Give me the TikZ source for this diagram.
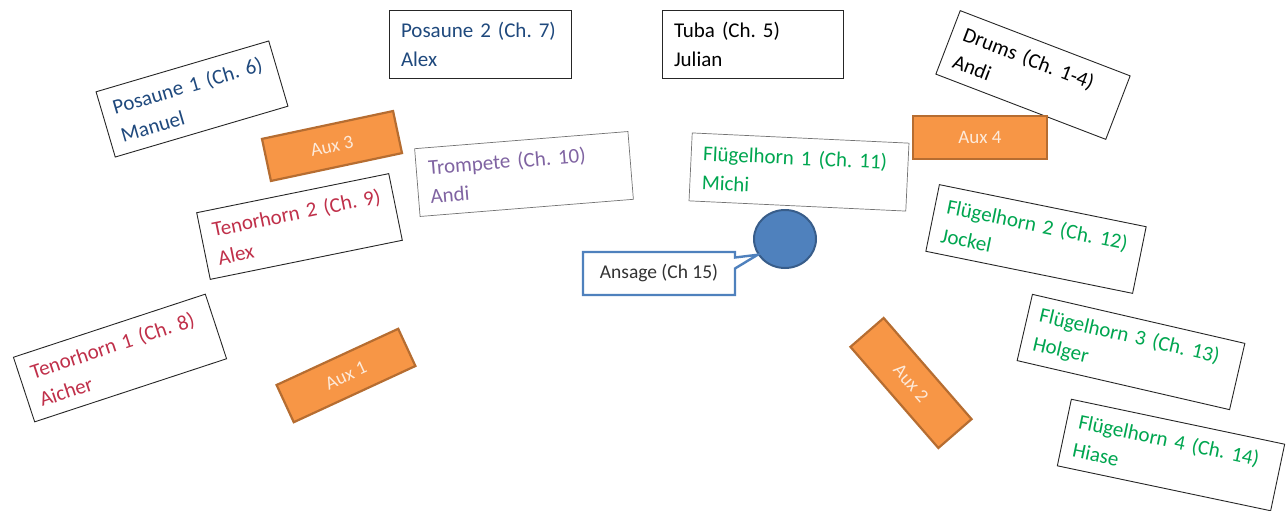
\documentclass[tikz,border=0pt]{standalone}
\usepackage{fontspec}
\setmainfont{Carlito}
\usetikzlibrary{shapes.geometric}
\usetikzlibrary{shapes.callouts}

\definecolor{posblue}{HTML}{1F497D}
\definecolor{trpviolet}{HTML}{8064A2}
\definecolor{tenred}{HTML}{C0304A}
\definecolor{flgreen}{HTML}{00A650}
\definecolor{auxfill}{HTML}{F79646}
\definecolor{auxline}{HTML}{B66D31}
\definecolor{auxtext}{HTML}{FDEADA}
\definecolor{spkfill}{HTML}{4F81BD}
\definecolor{spkline}{HTML}{385D8A}

\begin{document}
\begin{tikzpicture}
[x=1pt,y=-1pt,
 seat/.style={shape=rectangle,draw=black!85,line width=0.9pt,fill=white,
	minimum height=68pt,inner xsep=12pt,align=left,
	font=\fontsize{21}{29}\selectfont\frenchspacing},
 thinseat/.style={seat,draw=black!55,line width=0.7pt},
 aux/.style={shape=rectangle,draw=auxline,line width=2.2pt,fill=auxfill,
	minimum width=134pt,minimum height=43pt,text=auxtext,
	font=\fontsize{19}{22}\selectfont},
 spk/.style={shape=ellipse,draw=spkline,line width=2pt,fill=spkfill,
	minimum width=62pt,minimum height=58pt,inner sep=0pt},
 annbox/.style={rectangle callout,draw=spkfill,line width=2.4pt,fill=white,
	minimum width=152pt,minimum height=43pt,text=black!80,
	callout pointer width=11pt,font=\fontsize{19.5}{22}\selectfont}]

\useasboundingbox (0,0) rectangle (1288,511);

% back row
\draw (480,44) node (pos2) [seat,text=posblue,text width=158pt]
	{Posaune 2 (Ch. 7)\\Alex};
\draw (752.5,44) node (tuba) [seat,text width=157pt]
	{Tuba (Ch. 5)\\Julian};
\draw (192,99) node (pos1) [seat,text=posblue,text width=156pt,rotate=16.4]
	{Posaune 1 (Ch. 6)\\Manuel};
\draw (1033,75) node (drums) [seat,text width=158pt,rotate=-21]
	{Drums (Ch. 1-4)\\Andi};

% left side
\draw (524,174) node (trp) [thinseat,text=trpviolet,text width=190pt,rotate=4.6]
	{Trompete (Ch. 10)\\Andi};
\draw (299.5,226.5) node (ten2) [seat,text=tenred,text width=172pt,rotate=11.5]
	{Tenorhorn 2 (Ch. 9)\\Alex};
\draw (120,358) node (ten1) [seat,text=tenred,text width=178pt,rotate=18.2]
	{Tenorhorn 1 (Ch. 8)\\Aicher};

% right side
\draw (799,172) node (fl1) [thinseat,text=flgreen,text width=193pt,rotate=-2.7]
	{Flügelhorn 1 (Ch. 11)\\Michi};
\draw (1036,239) node (fl2) [seat,text=flgreen,text width=187pt,rotate=-11.5]
	{Flügelhorn 2 (Ch. 12)\\Jockel};
\draw (1131,352) node (fl3) [seat,text=flgreen,text width=194pt,rotate=-13]
	{Flügelhorn 3 (Ch. 13)\\Holger};
\draw (1171,455) node (fl4) [seat,text=flgreen,text width=194pt,rotate=-11.9]
	{Flügelhorn 4 (Ch. 14)\\Hiase};

% aux speakers
\draw (332,146) node (aux3) [aux,rotate=12] {Aux 3};
\draw (980,137.5) node (aux4) [aux] {Aux 4};
\draw (346,375.5) node (aux1) [aux,minimum height=41pt,rotate=24.8] {Aux 1};
\draw (911,383) node (aux2) [aux,minimum height=44pt,rotate=-49] {Aux 2};

% announcement mic
\draw (785,239) node (spk) [spk] {};
\draw (659,273.5) node (ann) [annbox,callout absolute pointer={(spk.210)}]
	{Ansage (Ch 15)};
\end{tikzpicture}
\end{document}
